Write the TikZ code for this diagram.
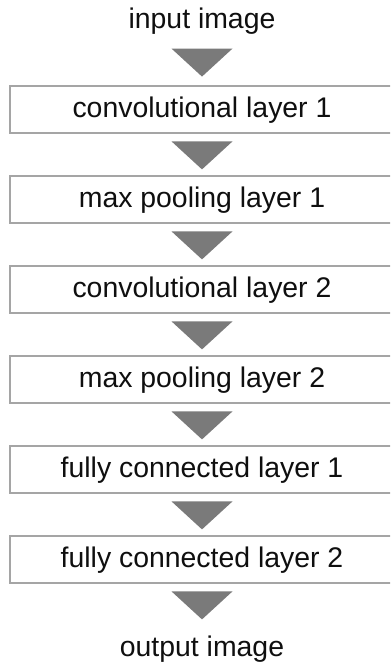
\documentclass[tikz,border=0pt]{standalone}
\usepackage{fontspec}
\setmainfont{Liberation Sans}
\usetikzlibrary{calc}
\definecolor{boxline}{RGB}{165,165,165}
\definecolor{trifill}{RGB}{122,122,122}
\definecolor{txt}{RGB}{15,15,15}
\begin{document}
\begin{tikzpicture}[x=1bp,y=1bp,
  layerbox/.style={draw=boxline, line width=2.8bp, fill=white, rectangle,
    minimum width=400bp, minimum height=47bp, inner sep=0pt,
    text height=21bp, text depth=4bp, text=txt,
    execute at begin node=\hspace*{-16bp},
    font=\fontsize{28.4bp}{32bp}\selectfont},
  endtext/.style={anchor=base, inner sep=0pt, text=txt,
    font=\fontsize{28.4bp}{32bp}\selectfont},
  tri/.style={fill=trifill, draw=none}]
\useasboundingbox (0,0) rectangle (390,666);
\clip (0,0) rectangle (390,666);
\node[endtext] (in) at (202,637) {input image};
\node[layerbox] (b1) at (210,556.5) {convolutional layer 1};
\node[layerbox] (b2) at (210,466.5) {max pooling layer 1};
\node[layerbox] (b3) at (210,376.5) {convolutional layer 2};
\node[layerbox] (b4) at (210,286.5) {max pooling layer 2};
\node[layerbox] (b5) at (210,196.5) {fully connected layer 1};
\node[layerbox] (b6) at (210,106.5) {fully connected layer 2};
\node[endtext] (out) at (202,9) {output image};
% arrow triangles between nodes
\fill[tri] ($(b1.north)+(-38.5,36)$) -- ($(b1.north)+(22.5,36)$) -- ($(b1.north)+(-8,8)$) -- cycle;
\foreach \a in {b1,b2,b3,b4,b5,b6}{
  \fill[tri] ($(\a.south)+(-38.5,-7)$) -- ($(\a.south)+(22.5,-7)$) -- ($(\a.south)+(-8,-35)$) -- cycle;
}
\end{tikzpicture}
\end{document}
